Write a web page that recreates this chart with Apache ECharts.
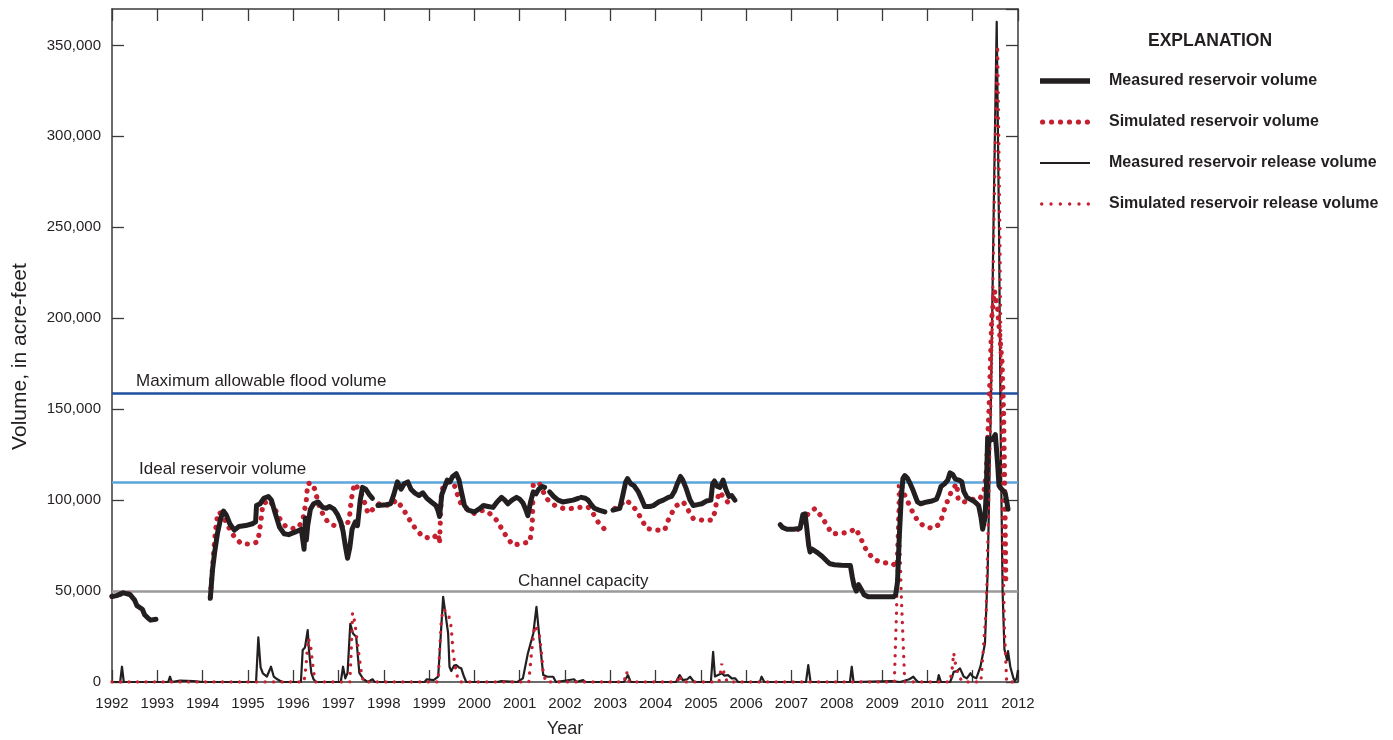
<!DOCTYPE html>
<html>
<head>
<meta charset="utf-8">
<script src="https://cdn.jsdelivr.net/npm/echarts@6/dist/echarts.min.js"></script>
<style>
html,body{margin:0;padding:0;background:#fff;}
#chart{width:1393px;height:740px;}
</style>
</head>
<body>
<div id="chart"></div>
<script>
// ---- Data ----
const yearTicks = [1992,1993,1994,1995,1996,1997,1998,1999,2000,2001,2002,2003,2004,2005,2006,2007,2008,2009,2010,2011,2012];
const maxFloodVolume = 158700;
const idealVolume = 110000;
const channelCapacity = 50000;
const seriesNames = ['Measured reservoir volume','Simulated reservoir volume','Measured reservoir release volume','Simulated reservoir release volume'];

const measuredReservoir = [
[1992.0,47000],[1992.1,47500],[1992.25,49000],[1992.4,48000],[1992.5,45000],[1992.55,42000],[1992.67,40000],[1992.72,37000],[1992.8,35000],[1992.85,34000],[1992.97,34500],[1993.5,null],
[1994.17,46000],[1994.22,62000],[1994.27,72000],[1994.33,82000],[1994.4,90000],[1994.46,94000],[1994.52,92000],[1994.6,87000],[1994.7,83500],[1994.8,85500],[1994.95,86000],[1995.1,87000],[1995.17,88000],[1995.19,97000],[1995.27,98000],[1995.35,101000],[1995.45,102000],[1995.52,100000],[1995.6,93000],[1995.7,85000],[1995.8,81500],[1995.9,81000],[1996.05,82500],[1996.18,84000],[1996.22,84000],[1996.24,73000],[1996.27,90000],[1996.29,78000],[1996.32,86000],[1996.38,95000],[1996.45,98000],[1996.55,99000],[1996.65,96000],[1996.73,95500],[1996.8,96500],[1996.9,95000],[1996.98,92000],[1997.05,88000],[1997.1,83000],[1997.15,75000],[1997.2,68000],[1997.25,74000],[1997.3,84000],[1997.37,88000],[1997.42,86000],[1997.48,100000],[1997.53,107000],[1997.6,106000],[1997.68,103000],[1997.75,101000],[1997.8,null],
[1997.87,97000],[1998.05,97500],[1998.15,98000],[1998.22,103000],[1998.3,110000],[1998.38,106000],[1998.45,109000],[1998.53,110000],[1998.6,106000],[1998.68,104000],[1998.78,102500],[1998.86,104000],[1998.95,101000],[1999.05,99000],[1999.15,97000],[1999.2,94000],[1999.23,91000],[1999.28,103000],[1999.34,107000],[1999.4,111000],[1999.46,110000],[1999.52,113000],[1999.6,114500],[1999.66,111000],[1999.71,105000],[1999.78,97000],[1999.86,94500],[2000.0,93500],[2000.1,95000],[2000.2,97000],[2000.3,96500],[2000.41,96000],[2000.5,99000],[2000.6,101500],[2000.67,100000],[2000.74,98000],[2000.83,100000],[2000.93,101500],[2001.0,100500],[2001.07,98500],[2001.13,95000],[2001.18,91500],[2001.24,99000],[2001.3,104500],[2001.36,103500],[2001.42,106000],[2001.5,107500],[2001.55,107000],[2001.6,null],
[2001.66,104500],[2001.75,102000],[2001.85,100000],[2001.95,99000],[2002.07,99500],[2002.18,100000],[2002.29,101000],[2002.33,null],
[2002.36,101500],[2002.45,101000],[2002.51,100000],[2002.58,97500],[2002.65,95500],[2002.75,94500],[2002.88,93500],[2002.97,null],
[2003.06,94500],[2003.21,95500],[2003.27,102000],[2003.34,110000],[2003.38,111800],[2003.45,109000],[2003.52,108000],[2003.62,104500],[2003.7,100000],[2003.76,96500],[2003.87,96500],[2003.95,97000],[2004.07,99000],[2004.17,100000],[2004.28,101500],[2004.35,102000],[2004.42,105000],[2004.48,109000],[2004.55,113000],[2004.6,111000],[2004.68,106000],[2004.76,100000],[2004.83,97000],[2004.93,97500],[2005.02,98000],[2005.12,99500],[2005.22,100000],[2005.26,109000],[2005.3,110500],[2005.36,107500],[2005.42,107000],[2005.49,111000],[2005.55,106000],[2005.62,102000],[2005.68,102500],[2005.75,100000],[2006.2,null],
[2006.75,86500],[2006.8,85000],[2006.9,84000],[2007.05,84000],[2007.19,84500],[2007.25,92000],[2007.3,92500],[2007.34,84000],[2007.38,75000],[2007.41,71500],[2007.46,73000],[2007.5,74000],[2007.58,71000],[2007.68,69000],[2007.78,66500],[2007.85,65000],[2007.95,64500],[2008.1,64200],[2008.3,64000],[2008.34,58000],[2008.38,53000],[2008.43,50000],[2008.48,53500],[2008.52,54500],[2008.56,50000],[2008.6,48000],[2008.7,46800],[2009.0,46800],[2009.25,46800],[2009.3,48000],[2009.34,55000],[2009.38,80000],[2009.42,100000],[2009.46,112000],[2009.5,113500],[2009.56,112000],[2009.62,109000],[2009.69,105000],[2009.78,99000],[2009.85,98000],[2009.99,99000],[2010.1,99500],[2010.2,100500],[2010.25,103500],[2010.3,107500],[2010.38,109000],[2010.45,111000],[2010.5,115000],[2010.56,114000],[2010.62,111500],[2010.7,111000],[2010.76,110000],[2010.8,105000],[2010.87,101500],[2010.98,100000],[2011.05,99000],[2011.13,97000],[2011.18,91000],[2011.22,84000],[2011.27,90000],[2011.3,105000],[2011.33,134000],[2011.4,133000],[2011.45,134000],[2011.5,136000],[2011.55,120000],[2011.58,108000],[2011.62,106500],[2011.68,105000],[2011.72,103500],[2011.76,98000],[2011.78,95000]
];

const simulatedReservoir = [
[1992.0,47000],[1992.1,47500],[1992.2,48500],[1992.3,48000],[1992.45,49000],[1993.0,null],
[1994.17,46800],[1994.24,70000],[1994.28,82000],[1994.32,90000],[1994.37,93500],[1994.47,90000],[1994.59,84400],[1994.7,79800],[1994.85,76100],[1995.03,75800],[1995.15,76500],[1995.22,77000],[1995.29,89000],[1995.33,98000],[1995.48,100000],[1995.6,95000],[1995.7,89900],[1995.84,85300],[1995.99,84400],[1996.12,85000],[1996.22,90000],[1996.29,100000],[1996.32,109000],[1996.4,109500],[1996.47,106300],[1996.58,96200],[1996.7,90000],[1996.8,87100],[1996.98,85300],[1997.17,85300],[1997.24,90000],[1997.28,100000],[1997.35,109000],[1997.45,106000],[1997.54,101700],[1997.65,92600],[1997.9,98000],[1998.13,97000],[1998.28,100000],[1998.42,95400],[1998.64,86200],[1998.86,79800],[1999.08,78900],[1999.2,81600],[1999.23,76100],[1999.25,90000],[1999.27,101700],[1999.31,108000],[1999.38,110000],[1999.56,108000],[1999.68,99000],[1999.82,95400],[2000.0,92600],[2000.19,94400],[2000.34,92600],[2000.49,89000],[2000.6,84400],[2000.71,79800],[2000.85,75200],[2001.04,76100],[2001.22,77000],[2001.26,82500],[2001.28,89000],[2001.3,109000],[2001.44,109000],[2001.59,100800],[2001.78,97000],[2001.96,95400],[2002.14,95400],[2002.3,96000],[2002.51,96200],[2002.62,92600],[2002.73,88000],[2002.88,83800],[2002.97,null],
[2003.1,95400],[2003.36,100000],[2003.58,94400],[2003.8,84400],[2004.02,83500],[2004.2,83500],[2004.28,89000],[2004.39,94400],[2004.46,97000],[2004.61,99000],[2004.72,94400],[2004.83,89900],[2005.02,89000],[2005.24,89000],[2005.31,93500],[2005.35,100000],[2005.42,104500],[2005.49,101700],[2005.59,99000],[2006.4,null],
[2007.15,84000],[2007.25,88000],[2007.37,92600],[2007.52,95400],[2007.67,90700],[2007.78,86200],[2007.89,81600],[2008.07,81600],[2008.29,82500],[2008.41,84400],[2008.52,79800],[2008.59,75200],[2008.7,70700],[2008.85,67000],[2009.03,65500],[2009.21,65500],[2009.33,63300],[2009.37,90000],[2009.42,108000],[2009.5,102700],[2009.69,92600],[2009.8,88000],[2009.95,85300],[2010.13,84400],[2010.28,87100],[2010.39,96200],[2010.54,105400],[2010.65,109000],[2010.68,100000],[2010.83,99000],[2011.05,100800],[2011.16,100800],[2011.25,105000],[2011.3,115000],[2011.36,150000],[2011.42,200000],[2011.48,215000],[2011.55,205000],[2011.6,190000],[2011.65,175000],[2011.68,150000],[2011.71,100000],[2011.73,56000]
];

const measuredRelease = [
[1992.0,0],[1992.18,0],[1992.22,8400],[1992.26,0],[1993.24,0],[1993.28,2900],[1993.32,0],[1993.5,800],[1993.8,500],[1994.0,0],[1995.18,0],[1995.23,24500],[1995.28,8000],[1995.33,4800],[1995.42,3000],[1995.51,8400],[1995.57,3000],[1995.65,1500],[1995.75,0],[1996.17,0],[1996.21,17600],[1996.26,19000],[1996.32,28500],[1996.35,17000],[1996.4,5000],[1996.45,1500],[1996.5,0],[1997.05,0],[1997.1,8400],[1997.15,2000],[1997.2,5000],[1997.26,32000],[1997.32,26700],[1997.39,24900],[1997.46,5000],[1997.55,1500],[1997.65,0],[1997.75,1500],[1997.8,0],[1998.9,0],[1998.95,1500],[1999.1,1000],[1999.2,2900],[1999.31,46800],[1999.38,34000],[1999.42,26700],[1999.45,8400],[1999.49,6000],[1999.55,9000],[1999.6,9300],[1999.66,8000],[1999.71,7500],[1999.77,3000],[1999.82,0],[2000.5,0],[2000.6,500],[2000.95,0],[2001.07,2000],[2001.18,15700],[2001.3,26700],[2001.37,41300],[2001.44,23000],[2001.52,3800],[2001.6,3000],[2001.74,2900],[2001.8,0],[2002.2,1500],[2002.25,0],[2002.4,1000],[2002.45,0],[2003.3,0],[2003.39,3800],[2003.45,0],[2004.45,0],[2004.53,3800],[2004.6,1000],[2004.7,1500],[2004.76,2900],[2004.85,0],[2005.22,0],[2005.27,16600],[2005.31,3000],[2005.46,4800],[2005.52,3500],[2005.6,3800],[2005.68,2000],[2005.76,2000],[2005.82,0],[2006.3,0],[2006.34,2900],[2006.4,0],[2007.32,0],[2007.37,9300],[2007.42,0],[2008.29,0],[2008.33,8400],[2008.37,0],[2009.2,500],[2009.4,0],[2009.6,1500],[2009.69,2900],[2009.75,1000],[2009.8,0],[2010.22,0],[2010.25,3800],[2010.3,0],[2010.5,0],[2010.55,3000],[2010.58,5600],[2010.65,6000],[2010.72,7500],[2010.8,3000],[2010.87,2000],[2010.95,4800],[2011.0,3000],[2011.08,2000],[2011.17,8400],[2011.27,21000],[2011.33,60000],[2011.4,150000],[2011.47,270000],[2011.53,363000],[2011.58,250000],[2011.62,130000],[2011.66,50000],[2011.7,18000],[2011.73,17600],[2011.76,12000],[2011.78,17000],[2011.83,8400],[2011.9,2000],[2011.93,500],[2011.97,2000],[2012.0,6600]
];

const simulatedRelease = [
[1992.0,0],[1996.24,0],[1996.28,8000],[1996.33,24000],[1996.38,21000],[1996.42,12000],[1996.46,4000],[1996.5,0],[1997.25,0],[1997.28,16000],[1997.31,38000],[1997.36,33000],[1997.43,19000],[1997.5,6000],[1997.55,0],[1999.2,0],[1999.23,16000],[1999.27,34000],[1999.31,40000],[1999.42,38000],[1999.49,30000],[1999.53,16000],[1999.6,5000],[1999.66,0],[2001.2,0],[2001.26,16000],[2001.33,31000],[2001.43,27000],[2001.48,16000],[2001.52,5000],[2001.58,0],[2003.3,0],[2003.36,5600],[2003.42,0],[2004.48,0],[2004.53,3800],[2004.58,0],[2005.4,0],[2005.46,10000],[2005.52,4000],[2005.58,0],[2009.27,0],[2009.32,40000],[2009.36,110000],[2009.42,50000],[2009.5,0],[2010.5,0],[2010.55,8000],[2010.58,16000],[2010.62,10000],[2010.66,6000],[2010.72,2000],[2010.8,0],[2011.18,0],[2011.3,40000],[2011.4,150000],[2011.5,300000],[2011.55,350000],[2011.6,250000],[2011.65,100000],[2011.7,30000],[2011.75,0],[2012.0,0]
];

// ---- Chart ----
const FONT = 'Liberation Sans, Arial, sans-serif';
const INK = '#231f20';
const RED = '#c4202f';
const AXIS = '#3a3a3a';

function dotsIcon(n, r, step){
  let d = '';
  for (let i = 0; i < n; i++) {
    const cx = r + i * step;
    d += 'M' + (cx - r) + ' ' + r + 'a' + r + ' ' + r + ' 0 1 0 ' + (2*r) + ' 0a' + r + ' ' + r + ' 0 1 0 ' + (-2*r) + ' 0Z';
  }
  return 'path://' + d;
}
const legendIcons = [
  'path://M0 0H50V5.5H0Z',
  dotsIcon(6, 2.6, 8.96),
  'path://M0 0H50V2.2H0Z',
  dotsIcon(6, 1.7, 9.32)
];

const chart = echarts.init(document.getElementById('chart'), null, {renderer:'canvas'});

function fmt(v){ return v.toLocaleString('en-US'); }

const baseX = {type:'value', min:yearTicks[0], max:yearTicks[yearTicks.length-1], interval:1};
const baseY = {type:'value', min:0, max:370000, interval:50000};

const option = {
  animation:false,
  backgroundColor:'#fff',
  title:{text:'EXPLANATION', left:1143, top:27, textStyle:{fontFamily:FONT, fontSize:17.5, fontWeight:'bold', color:INK}},
  legend:{
    orient:'vertical', left:1035, top:68, itemWidth:50, itemHeight:14, itemGap:25,
    data:seriesNames.map((n,i)=>({name:n, icon:legendIcons[i]})),
    textStyle:{fontFamily:FONT, fontSize:16, fontWeight:'bold', color:INK, padding:[0,0,0,14]}
  },
  grid:{left:112, right:375, top:9, bottom:58, containLabel:false, outerBoundsMode:'none'},
  xAxis:[
    Object.assign({}, baseX, {
      position:'bottom', name:'Year', nameLocation:'middle', nameGap:38,
      nameTextStyle:{fontFamily:FONT, fontSize:18, color:INK},
      axisLine:{onZero:false, lineStyle:{color:AXIS, width:1.5}},
      axisTick:{inside:true, length:12, lineStyle:{color:AXIS, width:1.3}},
      axisLabel:{fontFamily:FONT, fontSize:15, color:INK, margin:14, formatter:v=>String(v)},
      splitLine:{show:false}
    }),
    Object.assign({}, baseX, {
      position:'top',
      axisLine:{onZero:false, lineStyle:{color:AXIS, width:1.5}},
      axisTick:{inside:true, length:12, lineStyle:{color:AXIS, width:1.3}},
      axisLabel:{show:false}, splitLine:{show:false}
    })
  ],
  yAxis:[
    Object.assign({}, baseY, {
      position:'left', name:'Volume, in acre-feet', nameLocation:'middle', nameGap:81, nameRotate:90,
      nameTextStyle:{fontFamily:FONT, fontSize:21, color:INK, padding:[0,22,0,0]},
      axisLine:{show:true, onZero:false, lineStyle:{color:AXIS, width:1.5}},
      axisTick:{show:true, inside:true, length:12, lineStyle:{color:AXIS, width:1.3}},
      axisLabel:{fontFamily:FONT, fontSize:15, color:INK, margin:11, formatter:fmt, showMaxLabel:false},
      splitLine:{show:false}
    }),
    Object.assign({}, baseY, {
      position:'right',
      axisLine:{show:true, onZero:false, lineStyle:{color:AXIS, width:1.5}},
      axisTick:{show:true, inside:true, length:12, lineStyle:{color:AXIS, width:1.3}},
      axisLabel:{show:false}, splitLine:{show:false}
    })
  ],
  series:[
    {
      name:seriesNames[0], type:'line', data:measuredReservoir, symbol:'none', z:6,
      lineStyle:{color:INK, width:5, join:'round', cap:'round'}, itemStyle:{color:INK}
    },
    {
      name:seriesNames[1], type:'line', data:simulatedReservoir, symbol:'none', z:5,
      lineStyle:{color:RED, width:5.2, type:[0.1, 8.6], cap:'round'}, itemStyle:{color:RED}
    },
    {
      name:seriesNames[2], type:'line', data:measuredRelease, symbol:'none', z:3,
      lineStyle:{color:INK, width:2.2, join:'round'}, itemStyle:{color:INK},
      markLine:{
        silent:true, symbol:'none', z:1,
        data:[
          {yAxis:maxFloodVolume, lineStyle:{color:'#1f4fa0', width:2.5, type:'solid'},
           label:{show:true, position:'insideStartTop', formatter:'Maximum allowable flood volume', distance:[24,4], fontFamily:FONT, fontSize:17, color:INK}},
          {yAxis:idealVolume, lineStyle:{color:'#5aa5dc', width:2.5, type:'solid'},
           label:{show:true, position:'insideStartTop', formatter:'Ideal reservoir volume', distance:[27,4], fontFamily:FONT, fontSize:17, color:INK}},
          {yAxis:channelCapacity, lineStyle:{color:'#9a9a9a', width:2.5, type:'solid'},
           label:{show:true, position:'insideStartTop', formatter:'Channel capacity', distance:[406,1], fontFamily:FONT, fontSize:17, color:INK}}
        ]
      }
    },
    {
      name:seriesNames[3], type:'line', data:simulatedRelease, symbol:'none', z:4,
      lineStyle:{color:RED, width:3.3, type:[0.1, 8.4], cap:'round'}, itemStyle:{color:RED}
    }
  ]
};
chart.setOption(option);
</script>
</body>
</html>
